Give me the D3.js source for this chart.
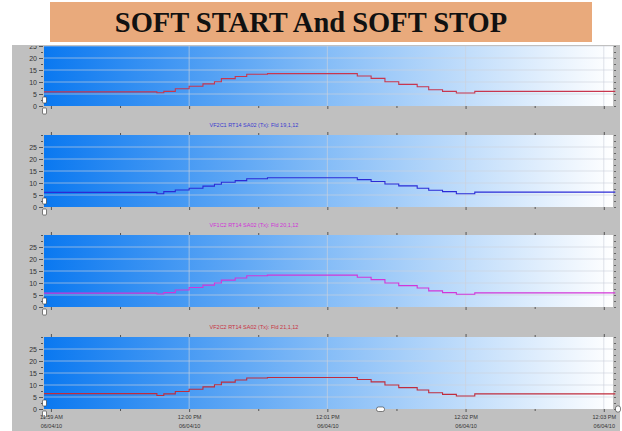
<!DOCTYPE html>
<html>
<head>
<meta charset="utf-8">
<script src="https://cdn.jsdelivr.net/npm/d3@7"></script>
<style>
  body { margin: 0; background: #fff; }
  svg { display: block; }
</style>
</head>
<body>
<svg id="chart" width="622" height="431"></svg>
<script>
const chartTitle = "SOFT START And SOFT STOP";
const panelTitles = ["", "VF2C1 RT14 SA02 (Tx): Fld 19,1,12", "VF1C2 RT14 SA02 (Tx): Fld 20,1,12", "VF2C2 RT14 SA02 (Tx): Fld 21,1,12"];
const panelColors = ["#c8364e", "#2b2bd6", "#d236d8", "#c02c3c"];
const titleColors = ["#000", "#3a3ad0", "#d030d8", "#c83040"];

// step start times, seconds after 11:59:00 on 06/04/10
const stepSec = [-3, 46, 49, 54, 60, 66, 71, 74, 80, 85, 94, 133, 139, 145, 151, 159, 164, 170, 176, 184, 245];
const fld18 = [5.9, 5.5, 6.1, 7.2, 8.2, 9.2, 10.1, 11.4, 12.3, 13.2, 13.5, 12.5, 11.5, 10.1, 9.0, 8.0, 6.8, 6.1, 5.4, 6.1, 6.1];
const fld19 = [6.1, 5.5, 6.4, 7.1, 7.8, 8.7, 9.5, 10.3, 11.0, 11.8, 12.2, 11.4, 10.6, 9.6, 8.8, 7.8, 7.0, 6.4, 5.5, 6.2, 6.2];
const fld20 = [5.8, 5.4, 6.0, 7.1, 8.1, 9.1, 10.0, 11.2, 12.1, 13.0, 13.3, 12.4, 11.4, 10.0, 8.9, 7.9, 6.7, 6.0, 5.3, 5.9, 5.9];
const fld21 = [6.4, 5.6, 6.3, 7.3, 8.2, 9.2, 10.1, 11.2, 12.1, 12.9, 13.1, 12.3, 11.3, 10.0, 8.9, 7.9, 6.8, 6.1, 5.4, 6.3, 6.3];
const seriesValues = [fld18, fld19, fld20, fld21];

const yMajor = [0, 5, 10, 15, 20, 25];
const yMinor = d3.range(0, 30.1, 2.5);
const dateLabel = "06/04/10";

const width = 622, height = 431;
const plotLeft = 44, plotRight = 613, plotH = 72;
const panelTops = [34, 135, 235, 337];

const t0 = new Date(2010, 5, 4, 11, 59, 0);
const toDate = s => new Date(t0.getTime() + s * 1000);

const svg = d3.select("#chart");

// gray window background
svg.append("rect").attr("x", 12).attr("y", 45).attr("width", 608).attr("height", 386).attr("fill", "#c0c0c0");

const defs = svg.append("defs");
const grad = defs.append("linearGradient").attr("id", "bg").attr("x1", 0).attr("x2", 1).attr("y1", 0).attr("y2", 0);
grad.append("stop").attr("offset", 0).attr("stop-color", "#0a78f0");
grad.append("stop").attr("offset", 0.5).attr("stop-color", "#86bdf7");
grad.append("stop").attr("offset", 1).attr("stop-color", "#ffffff");
defs.append("clipPath").attr("id", "clipTop")
  .append("rect").attr("x", 0).attr("y", 46).attr("width", width).attr("height", height);

const xScale = d3.scaleTime()
  .domain([toDate(-3), toDate(244)])
  .range([plotLeft, plotRight]);

const majorTimes = d3.range(0, 241, 60).map(toDate);
const minorTimes = d3.range(30, 241, 60).map(toDate);

panelTops.forEach((top, i) => {
  const bottom = top + plotH;
  const yScale = d3.scaleLinear().domain([0, 30]).range([bottom, top]);
  const g = svg.append("g");
  if (i === 0) g.attr("clip-path", "url(#clipTop)");

  g.append("rect").attr("x", plotLeft).attr("y", top)
    .attr("width", plotRight - plotLeft).attr("height", plotH)
    .attr("fill", "url(#bg)");

  // gridlines
  g.append("g").selectAll("line").data(yMajor.slice(1)).join("line")
    .attr("x1", plotLeft).attr("x2", plotRight)
    .attr("y1", d => yScale(d)).attr("y2", d => yScale(d))
    .attr("stroke", "rgb(205,210,220)").attr("stroke-opacity", 0.7).attr("stroke-width", 0.9);
  g.append("g").selectAll("line").data(majorTimes.slice(1)).join("line")
    .attr("x1", d => xScale(d)).attr("x2", d => xScale(d))
    .attr("y1", top).attr("y2", bottom)
    .attr("stroke", "rgb(205,210,220)").attr("stroke-opacity", 0.7).attr("stroke-width", 0.9);

  // step line
  const line = d3.line()
    .x((d, j) => xScale(toDate(stepSec[j])))
    .y(d => yScale(d))
    .curve(d3.curveStepAfter);
  g.append("path").datum(seriesValues[i])
    .attr("d", line)
    .attr("fill", "none")
    .attr("stroke", panelColors[i])
    .attr("stroke-width", 1.1);

  // left axis
  const yAxis = g.append("g").attr("transform", `translate(${plotLeft - 1},0)`)
    .call(d3.axisLeft(yScale).tickValues(yMajor).tickSize(4).tickPadding(2));
  g.append("g").attr("transform", `translate(${plotLeft - 1},0)`)
    .call(d3.axisLeft(yScale).tickValues(yMinor).tickSize(2).tickFormat(""));
  g.selectAll(".domain").remove();
  yAxis.selectAll("text").attr("font-family", "Liberation Sans, Arial, sans-serif")
    .attr("font-size", 7).attr("fill", "#333");
  g.selectAll(".tick line").attr("stroke", "#555");

  // right axis small ticks
  const rAxis = g.append("g").attr("transform", `translate(${plotRight + 1},0)`)
    .call(d3.axisRight(yScale).tickValues(yMinor).tickSize(2).tickFormat(""));
  rAxis.select(".domain").remove();
  rAxis.selectAll(".tick line").attr("stroke", "#666");

  // top and bottom time ticks
  [top, bottom].forEach((yy, k) => {
    const ax = k === 0 ? d3.axisTop : d3.axisBottom;
    const tg = g.append("g").attr("transform", `translate(0,${yy})`)
      .call(ax(xScale).tickValues(majorTimes).tickSize(3).tickFormat(""));
    const tm = g.append("g").attr("transform", `translate(0,${yy})`)
      .call(ax(xScale).tickValues(minorTimes).tickSize(2).tickFormat(""));
    tg.select(".domain").remove();
    tm.select(".domain").remove();
    tg.selectAll(".tick line").attr("stroke", "#555");
    tm.selectAll(".tick line").attr("stroke", "#555");
  });

  // slider handles
  [bottom - 9, bottom + 2].forEach(hy => {
    g.append("rect").attr("x", 42.5).attr("y", hy).attr("width", 4).attr("height", 6)
      .attr("rx", 1).attr("fill", "#fff").attr("stroke", "#333").attr("stroke-width", 0.6);
  });

  if (panelTitles[i]) {
    g.append("text").attr("x", 254).attr("y", top - 8)
      .attr("text-anchor", "middle")
      .attr("font-family", "Liberation Sans, Arial, sans-serif")
      .attr("font-size", 5.5)
      .attr("fill", titleColors[i])
      .text(panelTitles[i]);
  }

  if (i === panelTops.length - 1) {
    const timeAxis = g.append("g").attr("transform", `translate(0,${bottom})`)
      .call(d3.axisBottom(xScale).tickValues(majorTimes).tickSize(0).tickPadding(9)
        .tickFormat(d3.timeFormat("%I:%M %p")));
    timeAxis.select(".domain").remove();
    timeAxis.selectAll("text").attr("font-family", "Liberation Sans, Arial, sans-serif")
      .attr("font-size", 5.5).attr("fill", "#333").attr("dy", 0).attr("y", 10);
    const dateAxis = g.append("g").attr("transform", `translate(0,${bottom})`)
      .call(d3.axisBottom(xScale).tickValues(majorTimes).tickSize(0).tickFormat(() => dateLabel));
    dateAxis.select(".domain").remove();
    dateAxis.selectAll("text").attr("font-family", "Liberation Sans, Arial, sans-serif")
      .attr("font-size", 5.5).attr("fill", "#333").attr("dy", 0).attr("y", 19);

    g.append("rect").attr("x", 376.5).attr("y", bottom - 2).attr("width", 8).attr("height", 4.5)
      .attr("rx", 2).attr("fill", "#fff").attr("stroke", "#333").attr("stroke-width", 0.6);
    g.append("rect").attr("x", 615.5).attr("y", bottom - 3).attr("width", 5).attr("height", 6)
      .attr("rx", 2).attr("fill", "#fff").attr("stroke", "#333").attr("stroke-width", 0.6);
  }
});

// title banner on top
svg.append("rect").attr("x", 50).attr("y", 2).attr("width", 542).attr("height", 40).attr("fill", "#e9aa7c");
svg.append("text").attr("x", 311).attr("y", 32)
  .attr("text-anchor", "middle")
  .attr("font-family", "Liberation Serif, Times New Roman, serif")
  .attr("font-weight", "bold")
  .attr("font-size", 28.5)
  .attr("fill", "#111")
  .text(chartTitle);
</script>
</body>
</html>
